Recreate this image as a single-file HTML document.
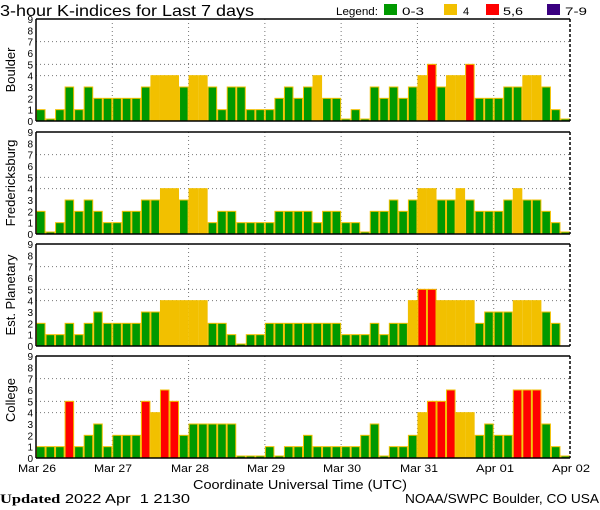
<!DOCTYPE html>
<html><head><meta charset="utf-8"><style>
html,body{margin:0;padding:0;background:#fff;}
svg{display:block;font-family:"Liberation Sans",sans-serif;}
</style></head><body>
<svg id="s" width="600" height="510" viewBox="0 0 600 510" xmlns="http://www.w3.org/2000/svg">
<rect width="600" height="510" fill="#fff"/>
<text x="0" y="16" font-size="16" textLength="254" lengthAdjust="spacingAndGlyphs">3-hour K-indices for Last 7 days</text>
<text x="336" y="15" font-size="11" textLength="42" lengthAdjust="spacingAndGlyphs">Legend:</text>
<rect x="384" y="4" width="13" height="11" fill="#009900"/><text x="402" y="15" font-size="11" textLength="22" lengthAdjust="spacingAndGlyphs">0-3</text>
<rect x="444" y="4" width="13" height="11" fill="#f2c000"/><text x="463" y="15" font-size="11">4</text>
<rect x="486" y="4" width="13" height="11" fill="#ff0000"/><text x="503" y="15" font-size="11" textLength="20" lengthAdjust="spacingAndGlyphs">5,6</text>
<rect x="547" y="4" width="13" height="11" fill="#3a0080"/><text x="565" y="15" font-size="11" textLength="22" lengthAdjust="spacingAndGlyphs">7-9</text>
<text transform="translate(15,70) rotate(-90)" text-anchor="middle" font-size="13">Boulder</text>
<text transform="translate(15,183) rotate(-90)" text-anchor="middle" font-size="13">Fredericksburg</text>
<text transform="translate(15,295) rotate(-90)" text-anchor="middle" font-size="13">Est. Planetary</text>
<text transform="translate(15,400) rotate(-90)" text-anchor="middle" font-size="13">College</text>
<g font-size="11">
<text x="18" y="472" textLength="38" lengthAdjust="spacingAndGlyphs">Mar 26</text><text x="94" y="472" textLength="38" lengthAdjust="spacingAndGlyphs">Mar 27</text><text x="171" y="472" textLength="38" lengthAdjust="spacingAndGlyphs">Mar 28</text><text x="247" y="472" textLength="38" lengthAdjust="spacingAndGlyphs">Mar 29</text><text x="323" y="472" textLength="38" lengthAdjust="spacingAndGlyphs">Mar 30</text><text x="400" y="472" textLength="38" lengthAdjust="spacingAndGlyphs">Mar 31</text><text x="476" y="472" textLength="38" lengthAdjust="spacingAndGlyphs">Apr 01</text><text x="552" y="472" textLength="38" lengthAdjust="spacingAndGlyphs">Apr 02</text>
</g>
<text x="193" y="489" font-size="13" textLength="214" lengthAdjust="spacingAndGlyphs">Coordinate Universal Time (UTC)</text>
<text x="0" y="503" font-size="13" textLength="190" lengthAdjust="spacingAndGlyphs" xml:space="preserve"><tspan font-family="Liberation Serif,serif" font-weight="bold">Updated</tspan> 2022 Apr  1 2130</text>
<text x="405" y="503" font-size="13" textLength="194" lengthAdjust="spacingAndGlyphs">NOAA/SWPC Boulder, CO USA</text>
<g id="g"></g>
</svg>
<script>
var D=[
[1,0,1,3,1,3,2,2, 2,2,2,3,4,4,4,3, 4,4,3,1,3,3,1,1, 1,2,3,2,3,4,2,2, 0,1,0,3,2,3,2,3, 4,5,3,4,4,5,2,2, 2,3,3,4,4,3,1,0],
[2,0,1,3,2,3,2,1, 1,2,2,3,3,4,4,3, 4,4,1,2,2,1,1,1, 1,2,2,2,2,1,2,2, 1,1,0,2,2,3,2,3, 4,4,3,3,4,3,2,2, 2,3,4,3,3,2,1,0],
[2,1,1,2,1,2,3,2, 2,2,2,3,3,4,4,4, 4,4,2,2,1,0,1,1, 2,2,2,2,2,2,2,2, 1,1,1,2,1,2,2,4, 5,5,4,4,4,4,2,3, 3,3,4,4,4,3,2,null],
[1,1,1,5,1,2,3,1, 2,2,2,5,4,6,5,2, 3,3,3,3,3,0,0,0, 1,0,1,1,2,1,1,1, 1,1,2,3,0,1,1,2, 4,5,5,6,4,4,2,3, 2,2,6,6,6,3,1,0]];
var tops=[19,132,244,356],H=102,X0=36,W=534,bw=W/56,u=H/9,h='';
function col(v){return v<=3?'#009900':v==4?'#f2c000':v<=6?'#ff0000':'#3a0080';}
for(var p=0;p<4;p++){var t=tops[p],b=t+H;
 for(var d=1;d<7;d++){var x=X0+d*W/7;h+='<line x1="'+x+'" y1="'+t+'" x2="'+x+'" y2="'+b+'" stroke="#777" stroke-dasharray="1,3"/>';}
 [4,5,7].forEach(function(v){var y=b-v*u;h+='<line x1="'+X0+'" y1="'+y+'" x2="'+(X0+W)+'" y2="'+y+'" stroke="#777" stroke-dasharray="1,3"/>';});
 for(var i=0;i<56;i++){var v=D[p][i];if(v===null)continue;var bh=v==0?2:v*u;var x=X0+i*bw;
  h+='<rect x="'+(x+0.5)+'" y="'+(b-bh)+'" width="'+(bw-1)+'" height="'+bh+'" fill="'+col(v)+'" stroke="#f2c000" stroke-width="1"/>';}
 h+='<line x1="'+X0+'" y1="'+t+'" x2="'+(X0+W)+'" y2="'+t+'" stroke="#000" stroke-width="1.5"/>';
 h+='<line x1="'+X0+'" y1="'+b+'" x2="'+(X0+W)+'" y2="'+b+'" stroke="#000" stroke-width="1.5"/>';
 h+='<line x1="'+X0+'" y1="'+t+'" x2="'+X0+'" y2="'+b+'" stroke="#000" stroke-width="1.5"/>';
 h+='<line x1="'+(X0+W)+'" y1="'+t+'" x2="'+(X0+W)+'" y2="'+b+'" stroke="#000" stroke-width="1.5" stroke-dasharray="3,2"/>';
 for(var v=0;v<=9;v++){h+='<text x="33" y="'+(b-v*u+4)+'" font-size="10" text-anchor="end">'+v+'</text>';}
}
document.getElementById('g').innerHTML=h;
</script>
</body></html>
